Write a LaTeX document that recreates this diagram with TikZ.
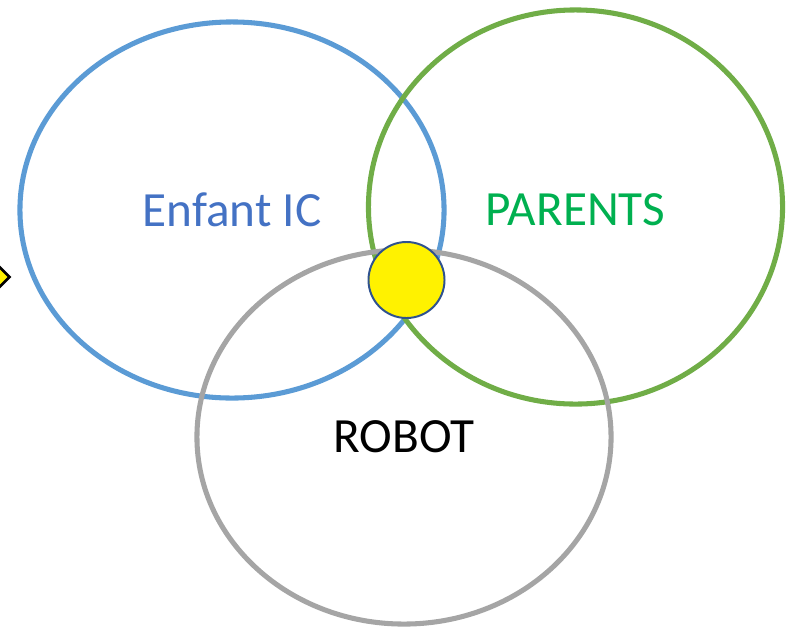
\documentclass[tikz,border=0pt]{standalone}
\usepackage{fontspec}
\setmainfont{Carlito}
\usepackage{tikz}
\usetikzlibrary{shapes.geometric}
\usetikzlibrary{positioning}

\definecolor{setblue}{HTML}{5B9BD5}
\definecolor{setgreen}{HTML}{70AD47}
\definecolor{setgray}{HTML}{A5A5A5}
\definecolor{textblue}{HTML}{4472C4}
\definecolor{textgreen}{HTML}{00B050}
\definecolor{rimblue}{HTML}{2F528F}

\tikzstyle{setring} = [ellipse, draw, line width=3.6pt, inner sep=0pt,
	font=\fontsize{35}{42}\selectfont]

\begin{document}
\begin{tikzpicture}[x=0.025cm, y=-0.025cm]
			
				\useasboundingbox (0,0) rectangle (800,627);
				
				% The three sets
				\node[setring, draw=setblue, text=textblue, minimum width=10.6cm, minimum height=9.4cm] (enfant) at (232,210) {Enfant IC};
				\node[setring, draw=setgreen, text=textgreen, minimum width=10.35cm, minimum height=9.85cm, text height=0.95cm] (parents) at (575.5,207) {PARENTS};
				\node[setring, draw=setgray, text=black, minimum width=10.35cm, minimum height=9.35cm] (robot) at (404,437) {ROBOT};
				
				% Common point
				\node[circle, fill=yellow, draw=rimblue, line width=1.4pt, minimum size=1.9cm] (meet) at (406.5,280) {};
				
				% Marker on the left border
				\node[diamond, fill=yellow, draw=black, line width=1.8pt, minimum width=0.5cm, minimum height=0.5cm, inner sep=0pt] (mark) at (0,277) {};
							
			\end{tikzpicture}
\end{document}
